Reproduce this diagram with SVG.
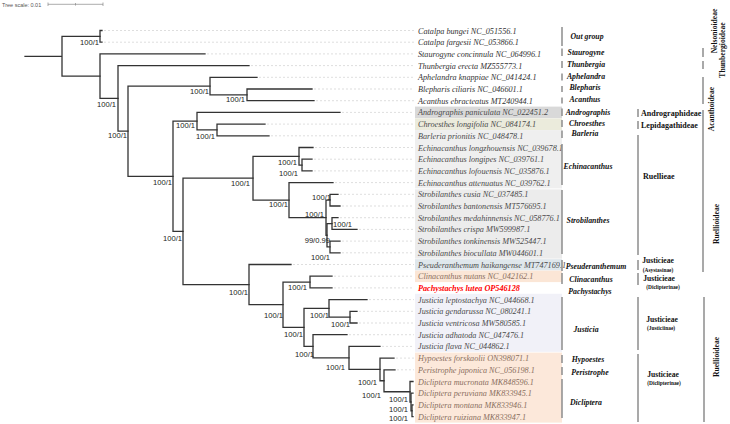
<svg xmlns="http://www.w3.org/2000/svg" width="730" height="424" viewBox="0 0 730 424">
<style>
  .br{fill:none;stroke:#333;stroke-width:1.3;stroke-linecap:square}
  .ld{fill:none;stroke:#c8c8c8;stroke-width:0.6;stroke-dasharray:2 2}
  .bs{font-family:"Liberation Sans",Arial,sans-serif;font-size:7.6px;fill:#222;text-anchor:end}
  .tx{font-family:"Liberation Serif","Times New Roman",serif;font-style:italic;font-size:8.2px;fill:#333}
  .tx.g{fill:#4a4a4a}
  .tx.p{fill:#8a6f60}
  .tx.r{fill:#ff0000;font-weight:bold}
  .gn{font-family:"Liberation Serif","Times New Roman",serif;font-style:italic;font-weight:bold;font-size:7.8px;fill:#111;text-anchor:middle}
  .tb{font-family:"Liberation Serif","Times New Roman",serif;font-weight:bold;font-size:8px;fill:#111}
  .sub{font-family:"Liberation Serif","Times New Roman",serif;font-weight:bold;font-size:5.4px;fill:#111;text-anchor:middle}
  .sf{font-family:"Liberation Serif","Times New Roman",serif;font-weight:bold;font-size:7.6px;fill:#111;text-anchor:middle}
  .bar{stroke:#8c8c8c;stroke-width:1.5}
</style>

<!-- scale bar -->
<g id="scale">
  <text x="2" y="7" font-family="Liberation Sans,Arial,sans-serif" font-size="5.5" fill="#555">Tree scale: 0.01</text>
  <path d="M48 4.3H103M48 2.5V6M75.5 3V5.6M103 2.5V6" stroke="#888" stroke-width="0.7" fill="none"/>
</g>

<!-- clade shading behind tip labels -->
<g id="shading">
  <rect x="415" y="106.6" width="147" height="11.6" fill="#d9d9d9"/>
  <rect x="415" y="118.4" width="147" height="11.6" fill="#ebebdc"/>
  <rect x="415" y="130.1" width="147" height="58.3" fill="#efefef"/>
  <rect x="415" y="189.4" width="147" height="69.2" fill="#ececec"/>
  <rect x="415" y="259.2" width="147" height="11.2" fill="#dfe7ec"/>
  <rect x="415" y="270.6" width="147" height="11.5" fill="#fbe6d6"/>
  <rect x="415" y="293.8" width="147" height="58" fill="#f1f1f8"/>
  <rect x="415" y="352.6" width="147" height="70" fill="#fce8da"/>
</g>

<!-- branches -->
<g id="connectors">
  <path class="br" d="M25 56.3H62M62 36.35V76.2M62 36.35H100M62 76.2H100"/>
  <path class="br" d="M100 30.5V42.2M100 30.5H102M100 42.2H102"/>
  <path class="br" d="M100 53.9V98.4M100 53.9H205M100 98.4H118"/>
  <path class="br" d="M118 65.6V131.2M118 65.6H249M118 131.2H128"/>
  <path class="br" d="M128 86.1V176.3M128 86.1H210M128 176.3H173"/>
  <path class="br" d="M210 77.3V94.85M210 77.3H257M210 94.85H247"/>
  <path class="br" d="M247 89V100.7M247 89H312M247 100.7H314"/>
  <path class="br" d="M173 121.2V231.4M173 121.2H197M173 231.4H183"/>
  <path class="br" d="M197 112.4V129.95M197 112.4H340M197 129.95H217"/>
  <path class="br" d="M217 124.1V135.8M217 124.1H265M217 135.8H269"/>
  <path class="br" d="M183 178.2V284.6M183 178.2H253M183 284.6H249"/>
  <path class="br" d="M253 156.3V200.15M253 156.3H299M253 200.15H289"/>
  <path class="br" d="M299 147.5V165.05M299 147.5H313M299 165.05H302"/>
  <path class="br" d="M302 159.2V170.9M302 159.2H312M302 170.9H312"/>
  <path class="br" d="M289 182.6V217.7M289 182.6H333M289 217.7H326"/>
  <path class="br" d="M326 200.15V235.25M326 200.15H330M326 235.25H327"/>
  <path class="br" d="M330 194.3V206M330 194.3H338M330 206H340"/>
  <path class="br" d="M327 223.55V246.95M327 223.55H332M327 246.95H330"/>
  <path class="br" d="M332 217.7V229.4M332 217.7H338M332 229.4H357"/>
  <path class="br" d="M330 241.1V252.8M330 241.1H340M330 252.8H340"/>
  <path class="br" d="M249 264.5V304.7M249 264.5H291M249 304.7H283"/>
  <path class="br" d="M283 282.05V327.35M283 282.05H310M283 327.35H304"/>
  <path class="br" d="M310 276.2V287.9M310 276.2H332M310 287.9H332"/>
  <path class="br" d="M304 308.4V346.31M304 308.4H329M304 346.31H313"/>
  <path class="br" d="M329 299.6V317.15M329 299.6H367M329 317.15H350"/>
  <path class="br" d="M350 311.3V323M350 311.3H357M350 323H357"/>
  <path class="br" d="M313 334.7V357.92M313 334.7H347M313 357.92H349"/>
  <path class="br" d="M349 346.4V369.44M349 346.4H380M349 369.44H380"/>
  <path class="br" d="M380 358.1V380.77M380 358.1H394M380 380.77H384"/>
  <path class="br" d="M384 369.8V391.74M384 369.8H395M384 391.74H410"/>
  <path class="br" d="M410 381.5V401.98M410 381.5H413M410 401.98H411"/>
  <path class="br" d="M411 393.2V410.75M411 393.2H413M411 410.75H412"/>
  <path class="br" d="M412 404.9V416.6M412 404.9H413M412 416.6H413"/>
  <!-- dotted leaders to the tip labels -->
  <path class="ld" d="M104 30.5H414M104 42.2H414M207 53.9H414M251 65.6H414M259 77.3H414M314 89H414M316 100.7H414M342 112.4H414M267 124.1H414M271 135.8H414M315 147.5H414M314 159.2H414M314 170.9H414M335 182.6H414M340 194.3H414M342 206H414M340 217.7H414M359 229.4H414M342 241.1H414M342 252.8H414M293 264.5H414M334 276.2H414M334 287.9H414M369 299.6H414M359 311.3H414M359 323H414M349 334.7H414M382 346.4H414M396 358.1H414M397 369.8H414"/>
</g>

<!-- support values -->
<g id="support">
  <text class="bs" x="99" y="45">100/1</text>
  <text class="bs" x="116" y="107">100/1</text>
  <text class="bs" x="209" y="94">100/1</text>
  <text class="bs" x="245" y="102">100/1</text>
  <text class="bs" x="195" y="128">100/1</text>
  <text class="bs" x="127" y="138">100/1</text>
  <text class="bs" x="215" y="139">100/1</text>
  <text class="bs" x="172" y="185">100/1</text>
  <text class="bs" x="250" y="186">100/1</text>
  <text class="bs" x="182" y="241">100/1</text>
  <text class="bs" x="248" y="295">100/1</text>
  <text class="bs" x="297" y="165">100/1</text>
  <text class="bs" x="298" y="176">100/1</text>
  <text class="bs" x="288" y="207">100/1</text>
  <text class="bs" x="331" y="200">100/1</text>
  <text class="bs" x="324" y="217">100/1</text>
  <text class="bs" x="352" y="227">100/1</text>
  <text class="bs" x="330" y="243">99/0.99</text>
  <text class="bs" x="330" y="260">100/1</text>
  <text class="bs" x="307" y="290">100/1</text>
  <text class="bs" x="283" y="318">100/1</text>
  <text class="bs" x="329" y="318">100/1</text>
  <text class="bs" x="350" y="327">100/1</text>
  <text class="bs" x="303" y="337">100/1</text>
  <text class="bs" x="314" y="357">100/1</text>
  <text class="bs" x="345" y="370">100/1</text>
  <text class="bs" x="377" y="385">100/1</text>
  <text class="bs" x="381" y="398">100/1</text>
  <text class="bs" x="408" y="402">100/1</text>
  <text class="bs" x="408" y="412">100/1</text>
  <text class="bs" x="408" y="421">100/1</text>
</g>

<!-- tip labels -->
<g id="tip-catalpa-bungei"><text class="tx" x="418" y="33.5">Catalpa bungei NC_051556.1</text></g>
<g id="tip-catalpa-fargesii"><text class="tx" x="418" y="45.2">Catalpa fargesii NC_053866.1</text></g>
<g id="tip-staurogyne"><text class="tx" x="418" y="56.9">Staurogyne concinnula NC_064996.1</text></g>
<g id="tip-thunbergia"><text class="tx" x="418" y="68.6">Thunbergia erecta MZ555773.1</text></g>
<g id="tip-aphelandra"><text class="tx" x="418" y="80.3">Aphelandra knappiae NC_041424.1</text></g>
<g id="tip-blepharis"><text class="tx" x="418" y="92">Blepharis ciliaris NC_046601.1</text></g>
<g id="tip-acanthus"><text class="tx" x="418" y="103.7">Acanthus ebracteatus MT240944.1</text></g>
<g id="tip-andrographis"><text class="tx g" x="418" y="115.4">Andrographis paniculata NC_022451.2</text></g>
<g id="tip-chroesthes"><text class="tx g" x="418" y="127.1">Chroesthes longifolia NC_084174.1</text></g>
<g id="tip-barleria"><text class="tx g" x="418" y="138.8">Barleria prionitis NC_048478.1</text></g>
<g id="tip-echinacanthus-longzhouensis"><text class="tx g" x="418" y="150.5">Echinacanthus longzhouensis NC_039678.1</text></g>
<g id="tip-echinacanthus-longipes"><text class="tx g" x="418" y="162.2">Echinacanthus longipes NC_039761.1</text></g>
<g id="tip-echinacanthus-lofouensis"><text class="tx g" x="418" y="173.9">Echinacanthus lofouensis NC_035876.1</text></g>
<g id="tip-echinacanthus-attenuatus"><text class="tx g" x="418" y="185.6">Echinacanthus attenuatus NC_039762.1</text></g>
<g id="tip-strobilanthes-cusia"><text class="tx g" x="418" y="197.3">Strobilanthes cusia NC_037485.1</text></g>
<g id="tip-strobilanthes-bantonensis"><text class="tx g" x="418" y="209">Strobilanthes bantonensis MT576695.1</text></g>
<g id="tip-strobilanthes-medahinnensis"><text class="tx g" x="418" y="220.7">Strobilanthes medahinnensis NC_058776.1</text></g>
<g id="tip-strobilanthes-crispa"><text class="tx g" x="418" y="232.4">Strobilanthes crispa MW599987.1</text></g>
<g id="tip-strobilanthes-tonkinensis"><text class="tx g" x="418" y="244.1">Strobilanthes tonkinensis MW525447.1</text></g>
<g id="tip-strobilanthes-bioculata"><text class="tx g" x="418" y="255.8">Strobilanthes biocullata MW044601.1</text></g>
<g id="tip-pseuderanthemum"><text class="tx g" x="418" y="267.5">Pseuderanthemum haikangense MT747169.1</text></g>
<g id="tip-clinacanthus"><text class="tx p" x="418" y="279.2">Clinacanthus nutans NC_042162.1</text></g>
<g id="tip-pachystachys"><text class="tx r" x="418" y="290.9">Pachystachys lutea OP546128</text></g>
<g id="tip-justicia-leptostachya"><text class="tx g" x="418" y="302.6">Justicia leptostachya NC_044668.1</text></g>
<g id="tip-justicia-gendarussa"><text class="tx g" x="418" y="314.3">Justicia gendarussa NC_080241.1</text></g>
<g id="tip-justicia-ventricosa"><text class="tx g" x="418" y="326">Justicia ventricosa MW580585.1</text></g>
<g id="tip-justicia-adhatoda"><text class="tx g" x="418" y="337.7">Justicia adhatoda NC_047476.1</text></g>
<g id="tip-justicia-flava"><text class="tx g" x="418" y="349.4">Justicia flava NC_044862.1</text></g>
<g id="tip-hypoestes"><text class="tx p" x="418" y="361.1">Hypoestes forskaolii ON398071.1</text></g>
<g id="tip-peristrophe"><text class="tx p" x="418" y="372.8">Peristrophe japonica NC_056198.1</text></g>
<g id="tip-dicliptera-mucronata"><text class="tx p" x="418" y="384.5">Dicliptera mucronata MK848596.1</text></g>
<g id="tip-dicliptera-peruviana"><text class="tx p" x="418" y="396.2">Dicliptera peruviana MK833945.1</text></g>
<g id="tip-dicliptera-montana"><text class="tx p" x="418" y="407.9">Dicliptera montana MK833946.1</text></g>
<g id="tip-dicliptera-ruiziana"><text class="tx p" x="418" y="419.6">Dicliptera ruiziana MK833947.1</text></g>

<!-- genus brackets -->
<g id="genus-outgroup"><path class="bar" d="M562 27V46"/><text class="gn" x="587" y="39">Out group</text></g>
<g id="genus-staurogyne"><path class="bar" d="M562 48.5V56"/><text class="gn" x="586" y="55">Staurogyne</text></g>
<g id="genus-thunbergia"><path class="bar" d="M562 61V68"/><text class="gn" x="586" y="67">Thunbergia</text></g>
<g id="genus-aphelandra"><path class="bar" d="M562 73.5V80.5"/><text class="gn" x="586" y="79">Aphelandra</text></g>
<g id="genus-blepharis"><path class="bar" d="M562 86V92"/><text class="gn" x="585" y="90">Blepharis</text></g>
<g id="genus-acanthus"><path class="bar" d="M562 97.5V103.5"/><text class="gn" x="585" y="102">Acanthus</text></g>
<g id="genus-andrographis"><path class="bar" d="M562 108.5V116"/><text class="gn" x="588" y="114.5">Andrographis</text></g>
<g id="genus-chroesthes"><path class="bar" d="M562 120V127"/><text class="gn" x="587" y="126">Chroesthes</text></g>
<g id="genus-barleria"><path class="bar" d="M562 130.5V138"/><text class="gn" x="585" y="136">Barleria</text></g>
<g id="genus-echinacanthus"><path class="bar" d="M562 144V185"/><text class="gn" x="588" y="169">Echinacanthus</text></g>
<g id="genus-strobilanthes"><path class="bar" d="M562 190V254"/><text class="gn" x="588" y="222.5">Strobilanthes</text></g>
<g id="genus-pseuderanthemum"><path class="bar" d="M562 260V271"/><text class="gn" x="596" y="268.5">Pseuderanthemum</text></g>
<g id="genus-clinacanthus"><path class="bar" d="M562 273V284"/><text class="gn" x="591" y="281.5">Clinacanthus</text></g>
<g id="genus-pachystachys"><text class="gn" x="590" y="294">Pachystachys</text></g>
<g id="genus-justicia"><path class="bar" d="M562 297V350"/><text class="gn" x="586" y="331.5">Justicia</text></g>
<g id="genus-hypoestes"><path class="bar" d="M562 355V363"/><text class="gn" x="588" y="361.5">Hypoestes</text></g>
<g id="genus-peristrophe"><path class="bar" d="M562 367V375"/><text class="gn" x="590" y="374.5">Peristrophe</text></g>
<g id="genus-dicliptera"><path class="bar" d="M562 379V418"/><text class="gn" x="586" y="404.5">Dicliptera</text></g>

<!-- tribe brackets -->
<g id="tribe-andrographideae"><path class="bar" d="M638 109V117"/><text class="tb" x="641" y="116">Andrographideae</text></g>
<g id="tribe-lepidagathideae"><path class="bar" d="M638 121V129"/><text class="tb" x="641" y="128">Lepidagathideae</text></g>
<g id="tribe-ruellieae"><path class="bar" d="M638 135V255"/><text class="tb" x="643" y="179">Ruellieae</text></g>
<g id="tribe-justicieae-asystasinae"><path class="bar" d="M638 260V270"/><text class="sf" x="658" y="263" font-size="7">Justicieae</text><text class="sub" x="658" y="272">(Asystasinae)</text></g>
<g id="tribe-justicieae-diclipterinae-1"><path class="bar" d="M638 273V285"/><text class="sf" x="659" y="280.5" font-size="7">Justicieae</text><text class="sub" x="663" y="288.5">(Diclipterinae)</text></g>
<g id="tribe-justicieae-justiciinae"><path class="bar" d="M638 297V350"/><text class="sf" x="662" y="322" font-size="8">Justicieae</text><text class="sub" x="661" y="330">(Justiciinae)</text></g>
<g id="tribe-justicieae-diclipterinae-2"><path class="bar" d="M638 354V422"/><text class="sf" x="663" y="377" font-size="8">Justicieae</text><text class="sub" x="664" y="385">(Diclipterinae)</text></g>

<!-- subfamily brackets -->
<g id="sub-nelsonioideae"><path class="bar" d="M703 48V57"/><text class="sf" transform="translate(717 31) rotate(-90)" font-size="6">Nelsonioideae</text></g>
<g id="sub-thunbergioideae"><path class="bar" d="M703 61V69"/><text class="sf" transform="translate(725 50) rotate(-90)" font-size="6.5">Thunbergioideae</text></g>
<g id="sub-acanthoideae"><path class="bar" d="M703 77V104"/><text class="sf" transform="translate(714 109) rotate(-90)">Acanthoideae</text></g>
<g id="sub-ruellioideae-1"><path class="bar" d="M703 110V272"/><text class="sf" transform="translate(719 224) rotate(-90)" font-size="7">Ruellioideae</text></g>
<g id="sub-ruellioideae-2"><path class="bar" d="M704 297V422"/><text class="sf" transform="translate(719 357) rotate(-90)">Ruellioideae</text></g>
</svg>
